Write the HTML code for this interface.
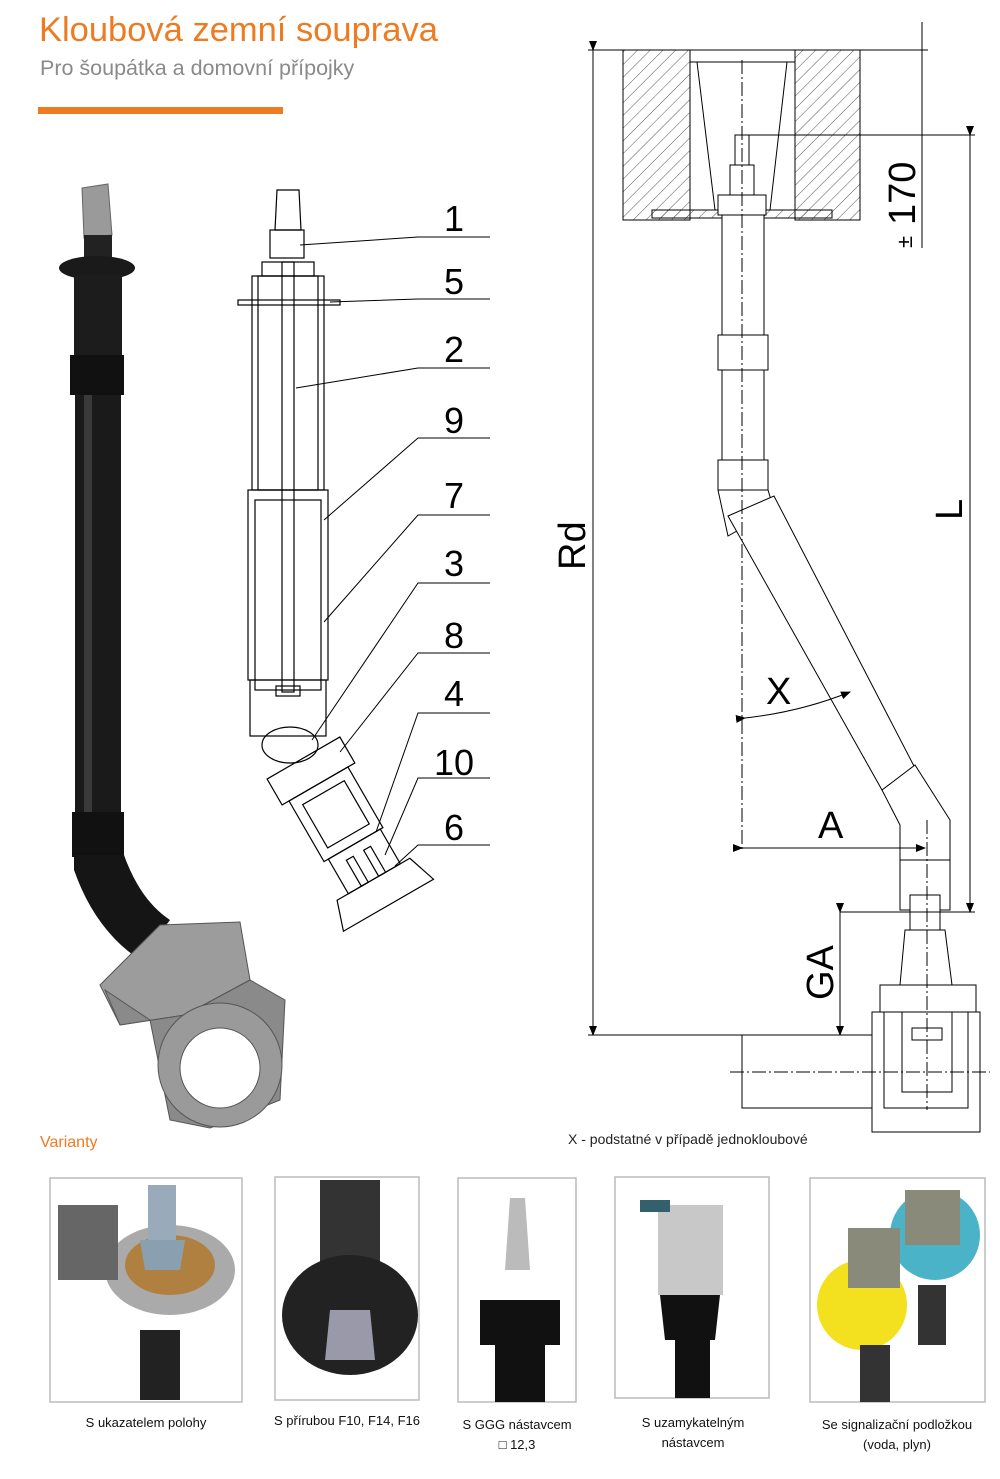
<!DOCTYPE html>
<html><head><meta charset="utf-8"><style>
html,body{margin:0;padding:0;background:#fff}
body{width:1000px;height:1479px;position:relative;overflow:hidden;font-family:"Liberation Sans",sans-serif}
.t{position:absolute;white-space:nowrap}
</style></head><body>
<div class="t" style="left:39px;top:11px;font-size:34.5px;color:#ee7a22">Kloubová zemní souprava</div>
<div class="t" style="left:40px;top:56px;font-size:21.5px;color:#8a8a8a">Pro šoupátka a domovní přípojky</div>
<div style="position:absolute;left:38px;top:107px;width:245px;height:7px;background:#ee7a22"></div>
<div class="t" style="left:40px;top:1134px;font-size:16px;color:#ee7a22">Varianty</div>
<div class="t" style="left:568px;top:1131px;font-size:14px;color:#222">X - podstatné v případě jednokloubové</div>

<svg width="1000" height="1479" style="position:absolute;left:0;top:0" font-family="Liberation Sans, sans-serif">
<defs>
<pattern id="h" width="9" height="9" patternUnits="userSpaceOnUse" patternTransform="rotate(45)"><line x1="0" y1="0" x2="0" y2="9" stroke="#555" stroke-width="1"/></pattern>
<marker id="ar" markerWidth="10" markerHeight="8" refX="9" refY="4" orient="auto"><path d="M0,0 L10,4 L0,8z" fill="#000"/></marker>
</defs>
<!-- left photo -->
<g>
<polygon points="82,188 108,184 112,235 84,238" fill="#9a9a9a" stroke="#666"/>
<rect x="84" y="235" width="28" height="25" fill="#222"/>
<ellipse cx="97" cy="268" rx="38" ry="12" fill="#1a1a1a"/>
<rect x="74" y="275" width="48" height="80" fill="#1c1c1c"/>
<rect x="70" y="355" width="54" height="40" fill="#111"/>
<rect x="75" y="395" width="46" height="420" fill="#1a1a1a"/>
<rect x="84" y="395" width="8" height="420" fill="#3a3a3a"/>
<rect x="72" y="812" width="52" height="45" fill="#111"/>
<path d="M74,855 L124,855 Q140,900 170,920 L140,960 Q95,930 74,870z" fill="#151515"/>
<path d="M100,985 L160,925 L240,922 L250,980 L185,1015 L120,1025z" fill="#9c9c9c" stroke="#555"/>
<path d="M105,990 L150,1020 L160,1070 L170,1120 L210,1128 L280,1100 L285,1000 L250,980 L185,1015 L120,1025z" fill="#8a8a8a" stroke="#555"/>
<circle cx="220" cy="1065" r="62" fill="#9a9a9a" stroke="#555"/>
<circle cx="220" cy="1068" r="40" fill="#fff" stroke="#555"/>
</g>
<!-- middle drawing -->
<g fill="none" stroke="#000" stroke-width="1.2">
<path d="M277,190 L299,190 L301,230 L275,230z"/>
<rect x="270" y="230" width="34" height="28"/>
<rect x="262" y="262" width="52" height="14"/>
<rect x="238" y="300" width="102" height="5"/>
<rect x="252" y="276" width="72" height="214"/>
<rect x="258" y="276" width="60" height="214"/>
<rect x="282" y="262" width="12" height="430"/>
<rect x="248" y="490" width="80" height="190"/>
<rect x="255" y="500" width="66" height="190"/>
<rect x="250" y="680" width="76" height="56"/>
<rect x="276" y="686" width="24" height="10"/>
<ellipse cx="290" cy="745" rx="28" ry="18"/>
<g transform="rotate(-30 300 760)">
<rect x="262" y="760" width="84" height="30"/>
<rect x="270" y="790" width="68" height="70"/>
<rect x="280" y="800" width="48" height="50"/>
<rect x="275" y="860" width="60" height="40"/>
<path d="M262,900 L346,900 L356,930 L252,930z"/>
<rect x="290" y="870" width="8" height="30"/>
<rect x="310" y="870" width="8" height="30"/>
</g>
</g>
<g stroke="#000" stroke-width="1" fill="none">
<path d="M300,245 L418,237 L490,237"/>
<path d="M330,302 L418,299 L490,299"/>
<path d="M296,388 L418,368 L490,368"/>
<path d="M324,520 L418,438 L490,438"/>
<path d="M324,622 L418,515 L490,515"/>
<path d="M312,740 L418,583 L490,583"/>
<path d="M340,752 L418,653 L490,653"/>
<path d="M376,832 L418,713 L490,713"/>
<path d="M385,855 L418,778 L490,778"/>
<path d="M395,866 L418,845 L490,845"/>
</g>
<g font-size="36" fill="#000">
<text x="444" y="231">1</text><text x="444" y="294">5</text><text x="444" y="362">2</text>
<text x="444" y="433">9</text><text x="444" y="508">7</text><text x="444" y="576">3</text>
<text x="444" y="648">8</text><text x="444" y="706">4</text><text x="434" y="775">10</text><text x="444" y="840">6</text>
</g>
<!-- right drawing -->
<g stroke="#000" stroke-width="1">
<rect x="623" y="50" width="67" height="170" fill="url(#h)"/>
<rect x="795" y="50" width="65" height="170" fill="url(#h)"/>
<rect x="690" y="50" width="105" height="12" fill="#fff"/>
<path d="M697,62 L787,62 L770,210 L715,210z" fill="#fff"/>
<rect x="652" y="210" width="180" height="8" fill="url(#h)"/>
<rect x="735" y="135" width="14" height="30" fill="#fff"/>
<rect x="730" y="165" width="24" height="30" fill="#fff"/>
<rect x="718" y="195" width="48" height="20" fill="#fff"/>
<rect x="722" y="215" width="42" height="120" fill="#fff"/>
<rect x="718" y="335" width="50" height="35" fill="#fff"/>
<rect x="722" y="370" width="42" height="90" fill="#fff"/>
<rect x="718" y="460" width="50" height="30" fill="#fff"/>
<path d="M718,490 L768,490 L774,510 L728,536z" fill="#fff"/>
<path d="M728,516 L774,496 L915,768 L882,790z" fill="#fff"/>
<path d="M882,790 L915,765 L950,820 L950,860 L900,860 L900,825z" fill="#fff"/>
<rect x="900" y="860" width="50" height="50" fill="#fff"/>
<rect x="910" y="895" width="30" height="35" fill="#fff"/>
<path d="M905,930 L945,930 L952,985 L900,985z" fill="#fff"/>
<rect x="880" y="985" width="96" height="30" fill="#fff"/>
<rect x="872" y="1012" width="108" height="120" fill="#fff"/>
<rect x="884" y="1012" width="84" height="96" fill="#fff"/>
<rect x="902" y="1012" width="50" height="80" fill="#fff"/>
<rect x="912" y="1028" width="30" height="12" fill="#fff"/>
<rect x="742" y="1035" width="130" height="73" fill="#fff"/>
</g>
<g stroke="#000" stroke-width="1" fill="none">
<line x1="742" y1="60" x2="742" y2="850" stroke-dasharray="14,3,2,3"/>
<line x1="927" y1="820" x2="927" y2="1110" stroke-dasharray="14,3,2,3"/>
<line x1="730" y1="1072" x2="990" y2="1072" stroke-dasharray="14,3,2,3"/>
<line x1="593" y1="50" x2="593" y2="1035" marker-start="url(#ar)" marker-end="url(#ar)"/>
<line x1="588" y1="50" x2="690" y2="50"/>
<line x1="588" y1="1035" x2="872" y2="1035"/>
<line x1="970" y1="135" x2="970" y2="912" marker-start="url(#ar)" marker-end="url(#ar)"/>
<line x1="742" y1="135" x2="975" y2="135"/>
<line x1="840" y1="912" x2="975" y2="912"/>
<line x1="922" y1="22" x2="922" y2="248"/>
<line x1="860" y1="50" x2="928" y2="50"/>
<line x1="742" y1="848" x2="925" y2="848" marker-start="url(#ar)" marker-end="url(#ar)"/>
<line x1="840" y1="912" x2="840" y2="1035" marker-start="url(#ar)" marker-end="url(#ar)"/>
<path d="M745,718 Q800,712 850,692" marker-start="url(#ar)" marker-end="url(#ar)"/>
</g>
<g font-size="38" fill="#000">
<text transform="translate(585,570) rotate(-90)">Rd</text>
<text transform="translate(962,520) rotate(-90)">L</text>
<text transform="translate(915,225) rotate(-90)">170</text>
<text transform="translate(912,248) rotate(-90)" font-size="22">±</text>
<text transform="translate(833,1000) rotate(-90)">GA</text>
<text x="818" y="838">A</text>
<text x="766" y="704">X</text>
</g>
<!-- variant boxes -->
<g stroke="#bbb" stroke-width="1.5" fill="#fff">
<rect x="50" y="1178" width="192" height="224"/>
<rect x="275" y="1177" width="144" height="223"/>
<rect x="458" y="1178" width="118" height="224"/>
<rect x="615" y="1177" width="154" height="221"/>
<rect x="810" y="1178" width="175" height="224"/>
</g>
<rect x="140" y="1330" width="40" height="70" fill="#222"/>
<ellipse cx="170" cy="1270" rx="65" ry="45" fill="#aaa"/>
<ellipse cx="170" cy="1265" rx="45" ry="30" fill="#b08040"/>
<rect x="58" y="1205" width="60" height="75" fill="#666"/>
<polygon points="140,1240 185,1240 180,1270 145,1270" fill="#8aa0b0"/>
<rect x="148" y="1185" width="28" height="55" fill="#9ab"/>
<rect x="320" y="1180" width="60" height="100" fill="#333"/>
<ellipse cx="350" cy="1315" rx="68" ry="60" fill="#222"/>
<polygon points="330,1310 370,1310 375,1360 325,1360" fill="#99a"/>
<polygon points="510,1198 525,1198 530,1270 505,1270" fill="#bbb"/>
<path d="M480,1300 L560,1300 L560,1345 L480,1345z" fill="#111"/>
<rect x="495" y="1345" width="50" height="57" fill="#111"/>
<rect x="658" y="1205" width="65" height="90" fill="#c8c8c8"/>
<rect x="640" y="1200" width="30" height="12" fill="#34606e"/>
<path d="M660,1295 L720,1295 L715,1340 L665,1340z" fill="#111"/>
<rect x="675" y="1340" width="35" height="58" fill="#111"/>
<circle cx="935" cy="1235" r="45" fill="#4ab3c8"/>
<rect x="905" y="1190" width="55" height="55" fill="#8a8a7a"/>
<circle cx="862" cy="1305" r="45" fill="#f3e01e"/>
<rect x="848" y="1228" width="52" height="60" fill="#8a8a7a"/>
<rect x="860" y="1345" width="30" height="57" fill="#333"/>
<rect x="918" y="1285" width="28" height="60" fill="#333"/>
<g font-size="13" fill="#111" text-anchor="middle">
<text x="146" y="1427">S ukazatelem polohy</text>
<text x="347" y="1425">S přírubou F10, F14, F16</text>
<text x="517" y="1429">S GGG nástavcem</text>
<text x="517" y="1449">□ 12,3</text>
<text x="693" y="1427">S uzamykatelným</text>
<text x="693" y="1447">nástavcem</text>
<text x="897" y="1429">Se signalizační podložkou</text>
<text x="897" y="1449">(voda, plyn)</text>
</g>
</svg>
</body></html>
